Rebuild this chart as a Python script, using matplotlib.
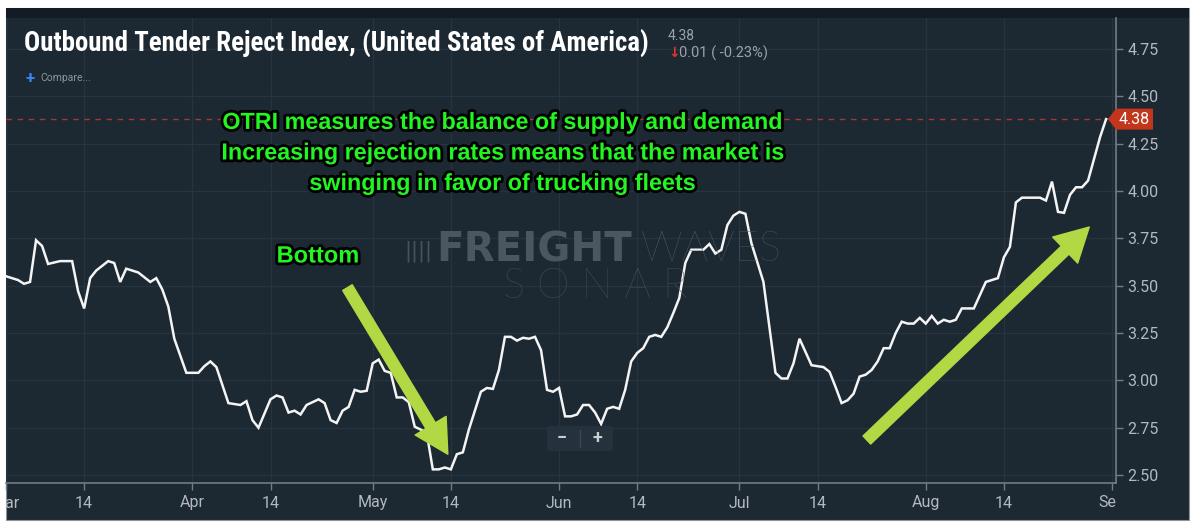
import numpy as np
import matplotlib
matplotlib.use("Agg")
import matplotlib.pyplot as plt
import matplotlib.dates as mdates
import matplotlib.patheffects as pe
from matplotlib.patches import Rectangle, Polygon, FancyBboxPatch
from matplotlib.lines import Line2D
from matplotlib.ticker import FormatStrFormatter
from matplotlib.transforms import Bbox, TransformedBbox, blended_transform_factory

plt.rcParams["font.family"] = ["Roboto", "DejaVu Sans"]

# OTRI daily values (vertices), days counted from 1 Mar 2019
start_date = np.datetime64("2019-03-01")
day_offsets = [
    0, 2, 3, 4, 5, 6, 7, 9, 11, 12, 13, 14, 15, 17, 18, 19, 20, 22, 23, 24,
    25, 26, 27, 28, 30, 32, 33, 34, 35, 37, 39, 40, 41, 42, 44, 45, 46, 47, 48, 49,
    50, 52, 53, 54, 55, 56, 57, 58, 59, 60, 61, 62, 63, 64, 65, 66, 67, 68, 69, 70,
    71, 72, 73, 74, 75, 76, 77, 78, 79, 80, 81, 82, 83, 84, 85, 86, 87, 88, 89, 90,
    91, 92, 93, 94, 95, 96, 97, 98, 99, 100, 101, 102, 103, 104, 105, 106, 107, 108, 109, 110,
    111, 112, 113, 114, 116, 117, 118, 119, 120, 121, 122, 123, 124, 126, 127, 128, 129, 130, 131, 132,
    133, 134, 136, 137, 138, 139, 140, 141, 142, 143, 144, 145, 146, 147, 148, 149, 150, 151, 152, 153,
    154, 155, 156, 157, 158, 159, 161, 162, 163, 165, 166, 167, 168, 169, 172, 173, 174, 175, 176, 177,
    178, 179, 180, 181, 182, 183,
]
otri = [
    3.55, 3.53, 3.51, 3.52, 3.74, 3.71, 3.615, 3.63, 3.63, 3.47, 3.38, 3.54, 3.58, 3.63, 3.62, 3.52, 3.59, 3.57, 3.545, 3.52,
    3.54, 3.48, 3.39, 3.22, 3.04, 3.04, 3.075, 3.10, 3.07, 2.88, 2.87, 2.89, 2.79, 2.75, 2.90, 2.92, 2.91, 2.83, 2.84, 2.82,
    2.87, 2.90, 2.88, 2.79, 2.775, 2.84, 2.86, 2.95, 2.94, 2.945, 3.09, 3.11, 3.05, 3.04, 2.91, 2.91, 2.885, 2.755, 2.74, 2.72,
    2.53, 2.53, 2.54, 2.53, 2.61, 2.62, 2.74, 2.84, 2.94, 2.96, 2.955, 3.055, 3.23, 3.23, 3.21, 3.225, 3.22, 3.23, 3.16, 2.95,
    2.94, 2.96, 2.81, 2.81, 2.82, 2.87, 2.87, 2.83, 2.77, 2.85, 2.86, 2.85, 2.95, 3.10, 3.145, 3.17, 3.23, 3.24, 3.23, 3.28,
    3.355, 3.435, 3.62, 3.69, 3.69, 3.72, 3.67, 3.69, 3.82, 3.87, 3.89, 3.88, 3.725, 3.52, 3.28, 3.04, 3.01, 3.01, 3.09, 3.22,
    3.15, 3.08, 3.07, 3.045, 2.965, 2.88, 2.895, 2.93, 3.02, 3.03, 3.055, 3.10, 3.17, 3.17, 3.25, 3.31, 3.30, 3.30, 3.33, 3.30,
    3.34, 3.30, 3.32, 3.31, 3.32, 3.38, 3.38, 3.45, 3.52, 3.54, 3.65, 3.705, 3.94, 3.965, 3.965, 3.95, 4.05, 3.89, 3.885, 3.98,
    4.02, 4.02, 4.055, 4.17, 4.285, 4.38,
]

tick_dates = ["2019-03-01", "2019-03-14", "2019-04-01", "2019-04-14", "2019-05-01", "2019-05-14",
              "2019-06-01", "2019-06-14", "2019-07-01", "2019-07-14", "2019-08-01", "2019-08-14",
              "2019-09-01"]
tick_labels = ["Mar", "14", "Apr", "14", "May", "14", "Jun", "14", "Jul", "14", "Aug", "14", "Sep"]
y_ticks = [2.50, 2.75, 3.00, 3.25, 3.50, 3.75, 4.00, 4.25, 4.50, 4.75]

title = "Outbound Tender Reject Index, (United States of America)"
note_lines = "OTRI measures the balance of supply and demand\nIncreasing rejection rates means that the market is\nswinging in favor of trucking fleets"

PANEL = "#1c2832"
HEADER = "#131c24"
GRID = "#27343f"
AXIS = "#747d86"
LABEL = "#b4b9be"
GREEN = "#22f522"
ARROW = "#b2d943"

W, H = 1200, 523


def fx(x):
    return x / W


def fy(y):
    return 1 - y / H


fig = plt.figure(figsize=(12, 5.23), dpi=100)
fig.patch.set_facecolor("white")
fig.add_artist(Rectangle((fx(6), fy(520)), fx(1189) - fx(6), fy(8) - fy(520),
                         transform=fig.transFigure, facecolor=PANEL, edgecolor="#8d949a", lw=0.8, zorder=-3))
fig.add_artist(Rectangle((fx(6), fy(18)), fx(1189) - fx(6), fy(8) - fy(18),
                         transform=fig.transFigure, facecolor=HEADER, edgecolor="none", zorder=-2))

ax = fig.add_axes([fx(6), fy(483), fx(1116) - fx(6), fy(18) - fy(483)])
ax.set_facecolor("none")

dates = start_date + np.array(day_offsets).astype("timedelta64[D]")
d0 = mdates.date2num(start_date)

# watermark
wm = dict(transform=fig.transFigure, va="center", zorder=0.5)
fig.text(fx(404), fy(251), "||||", color="#47525d", fontsize=15, family="DejaVu Sans", **wm)
fig.text(fx(436), fy(250), "FREIGHT", color="#4b5661", fontsize=29, family="DejaVu Sans",
         fontweight="bold", **wm)
fig.text(fx(641), fy(250), "WAVES", color="#4e5964", fontsize=30, family="Lato", fontweight="light", **wm)
fig.text(fx(503), fy(287), "S O N A R", color="#4a5560", fontsize=30, family="Lato", fontweight="light", **wm)

ax.plot(dates, otri, color="#f4f4f4", lw=1.8, zorder=3, solid_joinstyle="miter")

last = otri[-1]
ax.axhline(last, color="#a23a2c", lw=1, ls=(0, (4, 4)), zorder=2)

ax.set_xlim(d0 + 0.55, d0 + 184.65)
ax.set_ylim(2.458, 4.914)
ax.set_xticks(np.array(tick_dates, dtype="datetime64[D]"), tick_labels)
ax.set_yticks(y_ticks)
ax.yaxis.set_major_formatter(FormatStrFormatter("%.2f"))
ax.yaxis.tick_right()
for s in ["left", "top"]:
    ax.spines[s].set_visible(False)
for s in ["right", "bottom"]:
    ax.spines[s].set_color(AXIS)
    ax.spines[s].set_linewidth(1.2)
ax.tick_params(axis="both", colors=AXIS, labelcolor=LABEL, length=5, width=1, labelsize=11.5)
ax.tick_params(axis="x", pad=4)
ax.tick_params(axis="y", pad=3)
ax.grid(True, color=GRID, lw=0.9)
ax.set_axisbelow(True)

clip = TransformedBbox(Bbox.from_extents(fx(6), 0, fx(1116), 1), fig.transFigure)
for t in ax.xaxis.get_major_ticks():
    t.label1.set_clip_box(clip)
    t.label1.set_clip_on(True)

# price tag on the right axis
bt = blended_transform_factory(fig.transFigure, ax.transData)
hh = 10.5 / 189.3
fig.add_artist(Polygon([(fx(1108), last), (fx(1116), last + hh), (fx(1153), last + hh),
                        (fx(1153), last - hh), (fx(1116), last - hh)],
                       closed=True, transform=bt, facecolor="#c2361c", edgecolor="none", zorder=5))
fig.text(fx(1134), last, "4.38", transform=bt, color="white", fontsize=11.5, ha="center", va="center", zorder=6)

# header texts
fig.text(fx(24), fy(44), title, color="white", fontsize=19.4, fontweight="bold",
         family=["Roboto Condensed", "Liberation Sans Narrow", "Roboto"], va="center")
fig.text(fx(668), fy(36), "4.38", color="#9ca2a8", fontsize=10, va="center")
fig.text(fx(668), fy(53), "\u2193", color="#e3342a", fontsize=10, fontweight="bold", va="center",
         family="DejaVu Sans")
fig.text(fx(679), fy(53), "0.01 ( -0.23%)", color="#9ca2a8", fontsize=10.5, va="center")
fig.text(fx(25), fy(78), "+", color="#3b84f2", fontsize=12, fontweight="bold", va="center")
fig.text(fx(40), fy(78), "Compare...", color="#8e959c", fontsize=7.5, va="center")

# zoom control
fig.add_artist(FancyBboxPatch((fx(547), fy(451)), fx(613) - fx(547), fy(426) - fy(451),
                              boxstyle="round,pad=0,rounding_size=0.004", transform=fig.transFigure,
                              facecolor="#25313c", edgecolor="none", zorder=4))
fig.add_artist(Line2D([fx(580), fx(580)], [fy(430), fy(447)], transform=fig.transFigure,
                      color="#3a4651", lw=1, zorder=5))
fig.text(fx(562), fy(438), "\u2212", color="#c9ced3", fontsize=13, fontweight="bold", ha="center",
         va="center", zorder=6)
fig.text(fx(597), fy(438), "+", color="#c9ced3", fontsize=13, fontweight="bold", ha="center",
         va="center", zorder=6)

# annotations
outline = [pe.withStroke(linewidth=4, foreground="black")]
fig.text(fx(503), fy(153), note_lines, color=GREEN, fontsize=16.8, fontweight="bold",
         family="Liberation Sans", ha="center", va="center", linespacing=1.42,
         path_effects=outline, zorder=7)
fig.text(fx(318), fy(256), "Bottom", color=GREEN, fontsize=17, fontweight="bold",
         family="Liberation Sans", ha="center", va="center", path_effects=outline, zorder=7)

arrow_style = "simple,head_length=1.2,head_width=1.3,tail_width=0.4"
ax.annotate("", xy=(d0 + 73.5, 2.61), xytext=(d0 + 56.8, 3.49),
            arrowprops=dict(arrowstyle=arrow_style, mutation_scale=20, color=ARROW,
                            shrinkA=0, shrinkB=0), zorder=6)
ax.annotate("", xy=(d0 + 180.2, 3.81), xytext=(d0 + 143.2, 2.685),
            arrowprops=dict(arrowstyle=arrow_style, mutation_scale=20, color=ARROW,
                            shrinkA=0, shrinkB=0), zorder=6)

fig.savefig("out.png", dpi=100, facecolor="white")
